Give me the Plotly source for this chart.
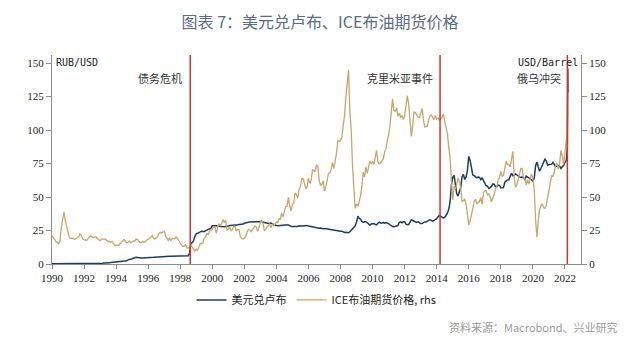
import pandas as pd
import plotly.graph_objects as go

# ---------------- data (monthly, Jan 1990 - Feb 2022) ----------------
rub_usd = [
    0.1,0.1,0.1,0.1,0.1,0.1,0.1,0.1,0.1,0.1,0.1,0.1,            # 1990
    0.1,0.1,0.1,0.1,0.1,0.1,0.1,0.1,0.1,0.1,0.1,0.2,            # 1991
    0.2,0.2,0.2,0.2,0.2,0.2,0.2,0.2,0.2,0.3,0.4,0.4,            # 1992
    0.4,0.5,0.6,0.7,0.9,1.1,1.0,1.0,1.1,1.2,1.2,1.25,           # 1993
    1.3,1.5,1.7,1.8,1.9,2.0,2.05,2.2,2.5,3.1,3.2,3.5,           # 1994
    3.9,4.3,4.8,5.0,4.9,4.6,4.5,4.5,4.5,4.5,4.6,4.6,            # 1995
    4.7,4.8,4.8,4.9,5.0,5.1,5.2,5.3,5.4,5.5,5.5,5.6,            # 1996
    5.6,5.7,5.7,5.8,5.8,5.8,5.8,5.8,5.9,5.9,5.9,6.0,            # 1997
    6.0,6.05,6.1,6.1,6.15,6.2,6.2,7.9,16.0,15.9,17.4,20.6,      # 1998
    22.6,22.9,23.4,24.4,24.5,24.3,24.2,24.7,25.5,25.9,26.3,26.8,  # 1999
    28.5,28.7,28.5,28.5,28.3,28.2,27.8,27.8,27.8,27.8,27.8,27.9,  # 2000
    28.3,28.7,28.7,28.8,29.0,29.1,29.2,29.3,29.4,29.5,29.7,29.9,  # 2001
    30.4,30.8,31.0,31.2,31.3,31.4,31.5,31.6,31.6,31.7,31.8,31.8,  # 2002
    31.8,31.6,31.3,31.2,30.9,30.4,30.3,30.4,30.6,29.9,29.7,29.4,  # 2003
    28.8,28.5,28.5,28.7,29.0,29.0,29.1,29.2,29.2,29.1,28.6,27.9,  # 2004
    27.9,27.9,27.6,27.9,27.9,28.5,28.7,28.4,28.4,28.6,28.8,28.8,  # 2005
    28.3,28.1,27.8,27.6,27.1,26.9,26.9,26.8,26.7,26.8,26.5,26.3,  # 2006
    26.5,26.3,26.1,25.9,25.8,25.8,25.6,25.6,25.3,24.9,24.5,24.6,  # 2007
    24.5,24.5,23.8,23.5,23.7,23.6,23.3,24.1,25.2,26.3,27.4,28.5,  # 2008
    31.5,35.7,34.0,33.5,31.8,31.0,31.5,31.6,30.8,29.5,29.0,29.9,  # 2009
    29.9,30.2,29.6,29.2,30.4,31.2,30.6,30.4,31.0,30.5,31.0,30.7,  # 2010
    30.1,29.3,28.5,28.0,27.9,28.1,28.0,28.7,31.0,31.4,30.8,31.5,  # 2011
    31.5,29.8,29.3,29.5,31.0,33.0,32.5,32.0,31.5,31.1,31.5,30.8,  # 2012
    30.2,30.2,30.8,31.4,31.3,32.3,32.6,33.0,32.4,32.0,32.6,33.0,  # 2013
    33.8,35.3,36.3,35.6,34.9,34.4,34.7,36.1,37.9,40.8,46.3,58.8,  # 2014
    64.7,66.2,60.2,52.6,50.7,54.6,57.1,65.2,66.8,63.1,65.0,69.7,  # 2015
    80.3,77.2,70.5,66.6,65.9,65.3,64.3,64.9,64.6,63.0,64.4,62.2,  # 2016
    59.6,58.4,58.1,56.4,57.0,57.9,59.7,59.6,57.7,57.7,58.9,58.6,  # 2017
    56.8,56.8,57.0,61.0,62.2,62.7,62.9,66.1,67.7,65.9,66.2,67.2,  # 2018
    66.2,65.7,65.0,64.7,64.9,64.2,63.2,65.6,64.9,64.2,64.1,62.9,  # 2019
    61.8,63.9,73.2,76.2,72.6,69.2,71.3,73.8,75.6,78.2,77.0,73.7,  # 2020
    74.2,74.4,74.4,75.9,74.0,72.6,73.6,73.6,73.1,71.4,72.5,73.7,  # 2021
    75.9,77.4,                                                  # 2022
]

brent = [
    21.0,19.9,18.4,16.6,16.3,15.1,17.2,27.2,34.9,39.0,32.3,27.3,  # 1990
    23.6,19.5,19.1,19.2,19.2,18.3,19.4,19.8,20.4,22.5,21.6,18.6,  # 1991
    18.2,18.1,17.6,18.9,19.9,21.1,20.2,19.7,20.2,20.2,19.1,18.2,  # 1992
    17.4,18.5,18.7,18.6,18.5,17.7,16.8,17.0,16.3,16.8,15.2,13.8,  # 1993
    14.3,13.8,13.8,15.1,16.3,17.0,18.2,16.8,15.8,16.2,17.1,16.0,  # 1994
    16.6,17.2,17.0,18.6,18.4,17.3,15.9,16.1,16.7,16.1,17.0,18.1,  # 1995
    18.6,18.9,19.9,21.3,19.1,18.5,19.6,20.5,22.5,23.6,23.1,23.7,  # 1996
    24.5,20.9,19.2,17.6,19.2,17.7,18.9,18.9,18.9,20.3,19.1,17.4,  # 1997
    15.5,14.3,13.1,13.4,14.4,12.1,12.0,12.0,13.4,12.8,11.0,9.8,   # 1998
    11.1,10.3,12.5,15.3,15.3,15.9,19.1,20.3,22.5,22.1,24.6,25.6,  # 1999
    25.5,27.8,27.5,22.8,27.6,29.8,28.7,30.2,33.1,31.2,32.6,25.3,  # 2000
    25.8,27.7,24.5,25.6,28.1,27.9,24.5,25.8,25.7,20.5,18.9,18.7,  # 2001
    19.4,20.3,23.7,25.7,25.4,24.1,25.7,26.6,28.4,27.5,24.3,28.0,  # 2002
    31.2,32.8,30.4,25.0,25.8,27.6,28.4,29.8,27.1,29.6,28.8,29.8,  # 2003
    31.3,30.9,33.8,33.4,37.9,35.2,38.4,43.0,43.2,49.8,43.1,39.6,  # 2004
    44.5,45.5,53.1,51.9,49.0,55.6,57.9,63.8,63.7,59.4,56.2,57.6,  # 2005
    63.9,60.1,62.1,70.3,70.0,68.9,73.7,73.2,62.5,58.8,59.2,62.1,  # 2006
    54.3,57.8,62.1,67.5,67.9,70.6,75.8,71.2,77.0,82.5,92.1,91.5,  # 2007
    92.0,94.8,103.3,110.4,124.6,136.5,145.0,113.9,99.1,72.8,53.2,41.6,  # 2008
    44.9,43.1,46.8,50.8,57.9,68.6,64.9,72.5,67.7,73.2,77.0,74.7,  # 2009
    76.4,74.3,79.3,84.9,76.3,74.8,75.6,77.1,78.4,83.5,86.1,92.3,  # 2010
    96.3,103.7,114.6,123.3,114.5,113.9,116.7,110.2,112.8,109.5,110.5,107.9,  # 2011
    110.7,119.3,125.5,119.8,110.3,95.2,102.6,113.4,113.0,111.5,109.5,109.2,  # 2012
    112.3,116.1,108.5,102.3,102.6,102.9,107.4,110.3,111.2,109.1,107.8,110.8,  # 2013
    108.1,108.9,107.5,107.8,109.5,111.8,106.8,101.6,97.1,87.4,79.4,62.3,  # 2014
    47.8,58.1,55.9,59.5,64.3,61.5,56.6,46.5,47.6,48.4,44.3,38.0,  # 2015
    29.0,32.2,38.2,41.6,46.7,48.3,44.9,45.8,46.6,49.5,44.7,53.3,  # 2016
    54.6,54.9,51.6,52.3,50.3,46.4,48.5,51.7,56.2,57.5,62.7,64.4,  # 2017
    69.1,65.3,66.0,72.1,76.9,74.4,74.3,72.5,78.9,84.0,64.8,57.4,  # 2018
    59.4,63.8,66.1,71.2,71.3,64.2,63.9,59.0,62.8,59.7,63.2,67.3,  # 2019
    63.6,55.5,33.7,20.0,32.1,40.8,43.2,45.0,41.9,41.5,43.9,50.2,  # 2020
    55.3,62.3,65.7,65.3,68.3,73.4,75.2,70.8,74.9,84.7,80.8,74.3,  # 2021
    86.5,93.1,                                                  # 2022
]

# early-March 2022 daily tail
tail_dates = ["2022-02-24", "2022-03-01", "2022-03-04", "2022-03-07", "2022-03-10"]
rub_tail = [86.0, 105.0, 118.0, 146.0, 128.0]
brent_tail = [99.0, 105.0, 118.0, 113.0, 111.0]

events = ["1998-08-17", "2014-03-18", "2022-02-24"]
event_labels = ["债务危机", "克里米亚事件", "俄乌冲突"]
event_label_x = ["1998-04-01", "2013-12-01", "2021-11-15"]
years = list(range(1990, 2023, 2))

dates = list(pd.date_range("1990-01-01", periods=len(rub_usd), freq="MS")) + \
        list(pd.to_datetime(tail_dates))

RUB_COLOR = "#1d3d5e"
BRENT_COLOR = "#c9a46e"
RED = "#d9302a"
AXIS = "#8c8c8c"
SERIF = "Liberation Serif"
CJK = "Noto Sans CJK SC"

fig = go.Figure()
fig.add_trace(go.Scatter(
    x=dates, y=brent + brent_tail, name="ICE布油期货价格, rhs", yaxis="y2",
    mode="lines", line=dict(color=BRENT_COLOR, width=1.3)))
fig.add_trace(go.Scatter(
    x=dates, y=rub_usd + rub_tail, name="美元兑卢布", yaxis="y",
    mode="lines", line=dict(color=RUB_COLOR, width=1.5)))

for d in events:
    fig.add_shape(type="line", xref="x", yref="paper", x0=d, x1=d, y0=0, y1=1,
                  line=dict(color=RED, width=1.5))

for t, xv in zip(event_labels, event_label_x):
    fig.add_annotation(x=xv, y=139, xref="x", yref="y", text=t, showarrow=False,
                       xanchor="right", yanchor="middle",
                       font=dict(family=CJK, size=11, color="#333333"))

fig.add_annotation(x=0.003, y=150.5, xref="paper", yref="y", text="RUB/USD",
                   showarrow=False, xanchor="left", yanchor="middle",
                   font=dict(family="DejaVu Sans Mono", size=10, color="#222222"))
fig.add_annotation(x=0.998, y=150.5, xref="paper", yref="y", text="USD/Barrel",
                   showarrow=False, xanchor="right", yanchor="middle",
                   font=dict(family="DejaVu Sans Mono", size=10, color="#222222"))

fig.add_annotation(x=(620 - 52) / (640 - 52 - 59), y=-(327 - 264) / (264 - 55),
                   xref="paper", yref="paper", text="资料来源：Macrobond、兴业研究",
                   showarrow=False, xanchor="right", yanchor="middle",
                   font=dict(family=CJK, size=11, color="#9a9a9a"))

fig.update_layout(
    width=640, height=353,
    margin=dict(l=52, r=59, t=55, b=89),
    paper_bgcolor="white", plot_bgcolor="white",
    title=dict(text="图表 7：美元兑卢布、ICE布油期货价格", x=0.5, xanchor="center",
               y=1 - 22 / 353, yanchor="middle",
               font=dict(family=CJK, size=16, color="#5b6b84")),
    showlegend=True,
    legend=dict(orientation="h", x=0.5, xanchor="center", y=-0.172, yanchor="middle",
                font=dict(family=CJK, size=11, color="#222222"), traceorder="reversed",
                itemwidth=30, bgcolor="rgba(0,0,0,0)"),
    xaxis=dict(type="date", range=["1990-01-01", "2023-01-01"],
               tickvals=[f"{y}-01-01" for y in years], ticktext=[str(y) for y in years],
               showgrid=False, zeroline=False, showline=True, linecolor=AXIS, linewidth=1,
               ticks="outside", ticklen=4, tickcolor=AXIS,
               tickfont=dict(family=SERIF, size=11, color="#222222")),
    yaxis=dict(range=[0, 156], tickvals=[0, 25, 50, 75, 100, 125, 150],
               showgrid=False, zeroline=False, showline=True, linecolor=AXIS, linewidth=1,
               ticks="outside", ticklen=5, tickcolor=AXIS,
               tickfont=dict(family=SERIF, size=11, color="#222222")),
    yaxis2=dict(range=[0, 156], tickvals=[0, 25, 50, 75, 100, 125, 150],
                overlaying="y", side="right",
                showgrid=False, zeroline=False, showline=True, linecolor=AXIS, linewidth=1,
                ticks="outside", ticklen=5, tickcolor=AXIS,
                tickfont=dict(family=SERIF, size=11, color="#222222")),
)

fig.write_html("out.html")
